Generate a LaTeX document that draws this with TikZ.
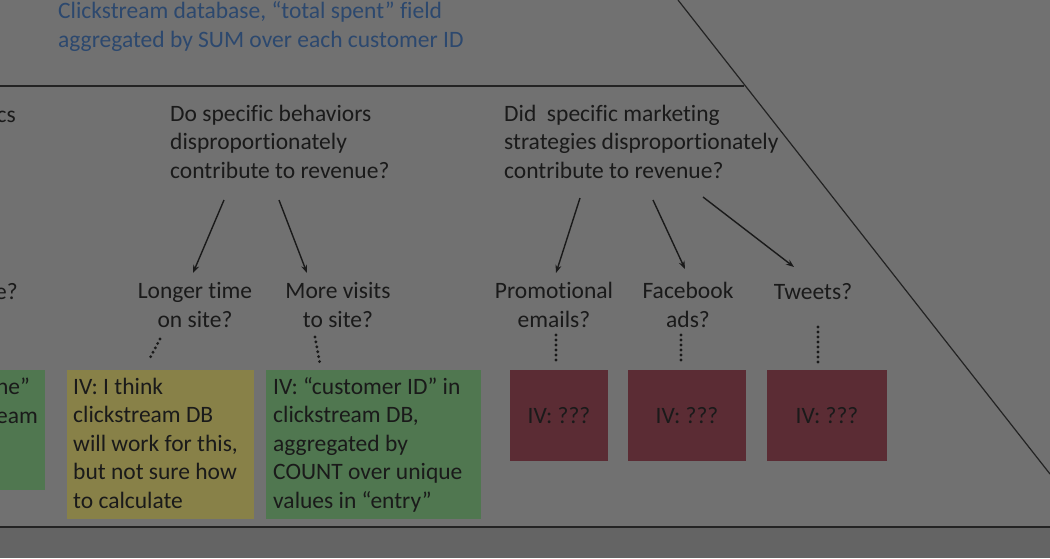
\documentclass[tikz,border=0pt]{standalone}
\usepackage{fontspec}
\setmainfont{Carlito}[Ligatures=NoCommon]
\usetikzlibrary{arrows.meta}
\definecolor{bgc}{RGB}{113,113,113}
\definecolor{strip}{RGB}{100,100,100}
\definecolor{ink}{RGB}{26,26,26}
\definecolor{blueink}{RGB}{44,72,110}
\definecolor{yelbox}{RGB}{136,129,72}
\definecolor{grnbox}{RGB}{80,119,80}
\definecolor{redbox}{RGB}{91,44,52}
\definecolor{rule}{RGB}{35,35,35}
\tikzset{
  txt/.style={inner sep=0pt, anchor=base west, align=left, text=ink,
    font=\fontsize{23.5}{28.5}\selectfont},
  ctxt/.style={inner sep=0pt, anchor=base, align=center, text=ink,
    font=\fontsize{23.5}{28.5}\selectfont},
  box/.style={inner sep=0pt, draw=none},
  arr/.style={draw=ink, line width=1.4pt, -{Stealth[length=8pt,width=6pt]}},
  dots/.style={draw=ink, line width=3.2pt, line cap=round, dash pattern=on 0pt off 5pt},
  rulel/.style={draw=rule, line width=2.5pt}
}
\begin{document}
\begin{tikzpicture}[x=1pt,y=-1pt]
\useasboundingbox (0,0) rectangle (1050,558);
\fill[bgc] (0,0) rectangle (1050,558);
\fill[strip] (0,528) rectangle (1050,558);
% rules
\coordinate (hl) at (0,86);
\coordinate (hr) at (744,86);
\draw[rulel] (hl) -- (hr);
\coordinate (dt) at (678,0);
\coordinate (db) at (1050,474);
\draw[draw=rule, line width=1.2pt] (dt) -- (db);
\coordinate (bl) at (0,527);
\coordinate (br) at (1050,527);
\draw[rulel] (bl) -- (br);
% top text
\node[txt, text=blueink] (top) at (58,47) {Clickstream database, “total spent” field\\aggregated by SUM over each customer ID};
% left partial texts
\node[txt, anchor=base east] (cs) at (16,122) {cs};
\node[txt, anchor=base east] (eq) at (18,299) {e?};
% boxes
\fill[grnbox] (0,370) rectangle (45,490);
\node[box] (lbox) at (22,430) {};
\node[txt, anchor=base east] (lb1) at (38,423) {ne”\\eam};
\fill[yelbox] (67,370) rectangle (254,519);
\node[box] (ybox) at (160,370) {};
\node[txt] (ytext) at (73,508) {IV: I think\\clickstream DB\\will work for this,\\but not sure how\\to calculate};
\fill[grnbox] (266,370) rectangle (481,519);
\node[box] (gbox) at (320,370) {};
\node[txt] (gtext) at (273,508) {IV: “customer ID” in\\clickstream DB,\\aggregated by\\COUNT over unique\\values in “entry”};
\fill[redbox] (510,370) rectangle (608,461);
\node[txt, anchor=base] (r1) at (559,423) {IV: ???};
\fill[redbox] (628,370) rectangle (746,461);
\node[txt, anchor=base] (r2) at (687,423) {IV: ???};
\fill[redbox] (767,370) rectangle (887,461);
\node[txt, anchor=base] (r3) at (827,423) {IV: ???};
% questions
\node[txt] (q1) at (170,178) {Do specific behaviors\\disproportionately\\contribute to revenue?};
\node[txt] (q2) at (504,178) {Did\ \ specific marketing\\strategies disproportionately\\contribute to revenue?};
% sub labels
\node[ctxt] (lt) at (195,327) {Longer time\\on site?};
\node[ctxt] (mv) at (338,327) {More visits\\to site?};
\node[ctxt] (pe) at (554,327) {Promotional\\emails?};
\node[ctxt] (fb) at (688,327) {Facebook\\ads?};
\node[ctxt] (tw) at (813,299) {Tweets?};
% arrows
\coordinate (a1s) at (224,200); \coordinate (a1e) at (193,273);
\coordinate (a2s) at (279,200); \coordinate (a2e) at (307,273);
\coordinate (a3s) at (580,198); \coordinate (a3e) at (556,273);
\coordinate (a4s) at (653,200); \coordinate (a4e) at (685,269);
\coordinate (a5s) at (703,197); \coordinate (a5e) at (794,267);
\draw[arr] (a1s) -- (a1e);
\draw[arr] (a2s) -- (a2e);
\draw[arr] (a3s) -- (a3e);
\draw[arr] (a4s) -- (a4e);
\draw[arr] (a5s) -- (a5e);
% dotted links
\coordinate (d1s) at (160,339); \coordinate (d1e) at (150,358);
\coordinate (d2s) at (315,337); \coordinate (d2e) at (320,364);
\coordinate (d3s) at (556,335); \coordinate (d3e) at (556,362);
\coordinate (d4s) at (681,335); \coordinate (d4e) at (681,362);
\coordinate (d5s) at (818,327); \coordinate (d5e) at (818,362);
\draw[dots] (d1s) -- (d1e);
\draw[dots] (d2s) -- (d2e);
\draw[dots] (d3s) -- (d3e);
\draw[dots] (d4s) -- (d4e);
\draw[dots] (d5s) -- (d5e);
\end{tikzpicture}
\end{document}
